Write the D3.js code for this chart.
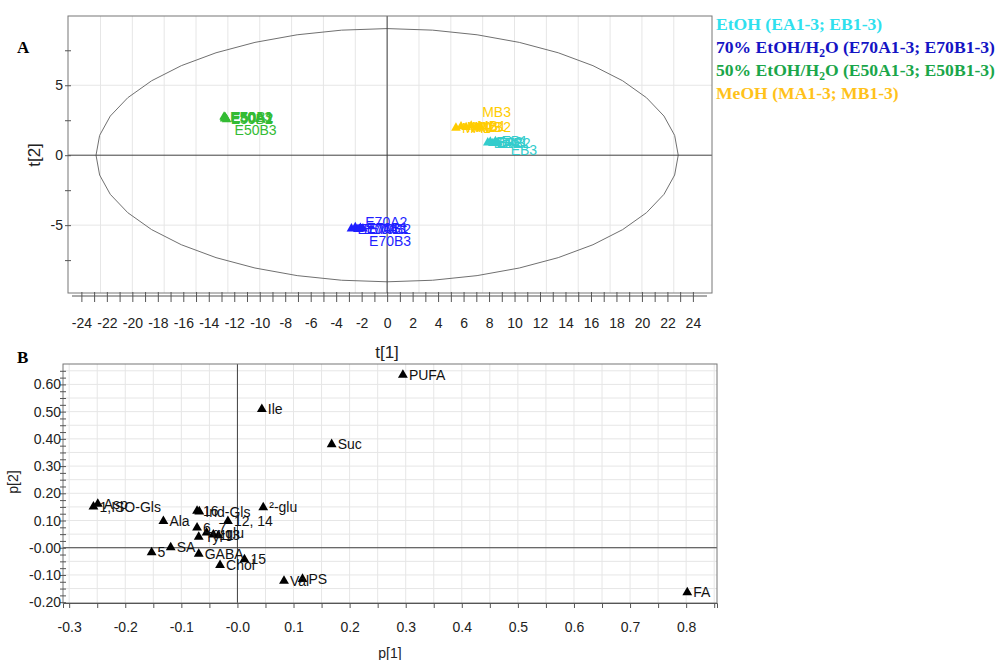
<!DOCTYPE html>
<html>
<head>
<meta charset="utf-8">
<script src="https://cdn.jsdelivr.net/npm/d3@7"></script>
<style>
  body { margin: 0; background: #fff; }
  text { font-family: "Liberation Sans", Arial, sans-serif; }
</style>
</head>
<body>
<script>
// ---- panel A: scores t[1] / t[2] ----
var scoreNames = ["EA1","EA2","EA3","EB1","EB2","EB3",
                  "E70A1","E70A2","E70A3","E70B1","E70B2","E70B3",
                  "E50A1","E50A2","E50A3","E50B1","E50B2","E50B3",
                  "MA1","MA2","MA3","MB1","MB2","MB3"];
var scoreGroup = ["EtOH","EtOH","EtOH","EtOH","EtOH","EtOH",
                  "E70","E70","E70","E70","E70","E70",
                  "E50","E50","E50","E50","E50","E50",
                  "MeOH","MeOH","MeOH","MeOH","MeOH","MeOH"];
var t1 = [7.9, 8.1, 8.3, 8.5, 8.7, 8.6,
          -2.8, -2.5, -2.3, -2.1, -1.9, -2.2,
          -12.75, -12.7, -12.8, -12.7, -12.75, -12.6,
          5.4, 5.8, 6.2, 6.6, 7.0, 7.3];
var t2 = [0.9, 0.95, 0.85, 1.0, 0.9, 0.85,
          -5.25, -5.15, -5.3, -5.2, -5.25, -5.3,
          2.7, 2.65, 2.75, 2.7, 2.6, 2.55,
          1.95, 2.05, 2.0, 2.1, 2.0, 2.05];
var ellipseT1 = 22.85, ellipseT2 = 9.05;   // Hotelling T2 limits
var tTicksX = d3.range(-24, 25, 1);
var tTicksY = [-7.5, -5, -2.5, 0, 2.5, 5, 7.5];

// ---- panel B: loadings p[1] / p[2] ----
var loadNames = ["PUFA","Ile","Suc","FA","Asp","1,ISO-Gls","Ala","16","Ind-Gls","12, 14",
                 "\u00b2-glu","6, 7","\u03b1-glu","Tyr","11","13","SA","5","GABA","Chol","15","Val","PS"];
var p1 = [0.295, 0.0435, 0.168, 0.802, -0.249, -0.2567, -0.132, -0.072, -0.068, -0.017,
          0.046, -0.072, -0.055, -0.069, -0.043, -0.034, -0.119, -0.153, -0.069, -0.031, 0.0125, 0.083, 0.116];
var p2 = [0.635, 0.509, 0.380, -0.164, 0.161, 0.151, 0.098, 0.135, 0.133, 0.098,
          0.148, 0.074, 0.055, 0.040, 0.048, 0.045, 0.001, -0.017, -0.023, -0.064, -0.043, -0.122, -0.115];
var pTicksX = d3.range(-0.3, 0.81, 0.1).map(v => +v.toFixed(2));
var pTicksY = d3.range(-0.2, 0.61, 0.1).map(v => +v.toFixed(2));

var groupColor = {EtOH:"#33cccc", E70:"#1f1fff", E50:"#33bb33", MeOH:"#ffcc00"};
var legendItems = [
  {key:"EtOH", color:"#2fe0ee", parts:["EtOH (EA1-3; EB1-3)"]},
  {key:"E70",  color:"#1414c4", parts:["70% EtOH/H", "2", "O (E70A1-3; E70B1-3)"]},
  {key:"E50",  color:"#1aa64a", parts:["50% EtOH/H", "2", "O (E50A1-3; E50B1-3)"]},
  {key:"MeOH", color:"#ffc21a", parts:["MeOH (MA1-3; MB1-3)"]}
];
// label nudges where the software moved overlapping labels
var nudge = {E50B3:[2,10], MB3:[-4,-15], EB3:[8,7], E70B3:[4,12], E70A2:[4,-5]};

var svg = d3.select("body").append("svg").attr("width", 998).attr("height", 660);

function tri(size) { return d3.symbol().type(d3.symbolTriangle).size(size)(); }

// ================= panel A =================
var ax = d3.scaleLinear().domain([-25.05, 25.5]).range([68, 712]);
var ay = d3.scaleLinear().domain([-9.85, 9.95]).range([293, 16]);
var gA = svg.append("g");

gA.selectAll(".gx").data(d3.range(-22.5, 25, 2.5)).enter().append("line")
  .attr("x1", d => ax(d)).attr("x2", d => ax(d)).attr("y1", 16).attr("y2", 293)
  .attr("stroke", "#e6e6e6");
gA.selectAll(".gy").data([-5, 5]).enter().append("line")
  .attr("y1", d => ay(d)).attr("y2", d => ay(d)).attr("x1", 68).attr("x2", 712)
  .attr("stroke", "#e6e6e6");

// ellipse drawn as a coarse polygon like the original software
var ang = d3.range(0, 361, 9).map(a => a * Math.PI / 180);
gA.append("path")
  .attr("d", d3.line().x(a => ax(ellipseT1 * Math.cos(a))).y(a => ay(ellipseT2 * Math.sin(a)))(ang))
  .attr("fill", "none").attr("stroke", "#707070").attr("stroke-width", 1);

gA.append("line").attr("x1", ax(0)).attr("x2", ax(0)).attr("y1", 16).attr("y2", 293).attr("stroke", "#404040");
gA.append("line").attr("x1", 68).attr("x2", 712).attr("y1", ay(0)).attr("y2", ay(0)).attr("stroke", "#404040");
gA.append("rect").attr("x", 68).attr("y", 16).attr("width", 644).attr("height", 277)
  .attr("fill", "none").attr("stroke", "#777");

var xAxA = gA.append("g").attr("transform", "translate(0,296)")
  .call(d3.axisBottom(ax).tickValues(tTicksX).tickSize(6).tickPadding(16)
    .tickFormat(d => d % 2 === 0 ? String(d) : ""));
xAxA.select(".domain").remove();
gA.append("line").attr("x1", 72).attr("x2", 707).attr("y1", 296).attr("y2", 296).attr("stroke", "#555");
xAxA.selectAll(".tick line").attr("y1", -4).attr("stroke", "#555");
xAxA.selectAll("text").attr("font-size", 14).attr("fill", "#222").attr("font-family", "Liberation Sans");

var yAxA = gA.append("g").attr("transform", "translate(68,0)")
  .call(d3.axisLeft(ay).tickValues(tTicksY).tickSize(3).tickPadding(2)
    .tickFormat(d => d % 5 === 0 ? String(d) : ""));
yAxA.select(".domain").remove();
yAxA.selectAll(".tick line").attr("x2", 3).attr("x1", -3).attr("stroke", "#555");
yAxA.selectAll("text").attr("font-size", 14).attr("fill", "#222").attr("font-family", "Liberation Sans");

var scores = scoreNames.map((n, i) => ({name:n, g:scoreGroup[i], x:t1[i], y:t2[i]}));
gA.selectAll(".sp").data(scores).enter().append("path")
  .attr("d", tri(40))
  .attr("transform", d => "translate(" + ax(d.x) + "," + ay(d.y) + ")")
  .attr("fill", d => groupColor[d.g]);
gA.selectAll(".sl").data(scores).enter().append("text")
  .attr("x", d => ax(d.x) + 6 + (nudge[d.name] ? nudge[d.name][0] : 0))
  .attr("y", d => ay(d.y) + 5 + (nudge[d.name] ? nudge[d.name][1] : 0))
  .attr("font-size", 14).attr("fill", d => groupColor[d.g])
  .text(d => d.name);

gA.append("text").attr("transform", "translate(40,155) rotate(-90)")
  .attr("text-anchor", "middle").attr("font-size", 17).attr("fill", "#222").text("t[2]");
gA.append("text").attr("x", 387).attr("y", 358).attr("text-anchor", "middle")
  .attr("font-size", 17).attr("fill", "#222").text("t[1]");

svg.append("text").attr("x", 17).attr("y", 53).attr("font-size", 17).attr("font-weight", "bold")
  .style("font-family", "'Liberation Serif', 'Times New Roman', serif").text("A");
svg.append("text").attr("x", 17).attr("y", 363).attr("font-size", 17).attr("font-weight", "bold")
  .style("font-family", "'Liberation Serif', 'Times New Roman', serif").text("B");

// legend
var leg = svg.append("g");
legendItems.forEach(function(it, i) {
  var t = leg.append("text").attr("x", 716).attr("y", 30 + i * 23)
    .attr("font-size", 17.6).attr("font-weight", "bold").attr("fill", it.color)
    .style("font-family", "'Liberation Serif', 'Times New Roman', serif");
  it.parts.forEach(function(p, j) {
    var s = t.append("tspan").text(p);
    if (it.parts.length === 3 && j === 1) s.attr("font-size", 11.5).attr("dy", 4);
    if (it.parts.length === 3 && j === 2) s.attr("dy", -4);
  });
});

// ================= panel B =================
var bx = d3.scaleLinear().domain([-0.311, 0.855]).range([63, 717]);
var by = d3.scaleLinear().domain([-0.203, 0.675]).range([603, 364]);
var gB = svg.append("g");

gB.selectAll(".gx").data(d3.range(-0.3, 0.86, 0.05)).enter().append("line")
  .attr("x1", d => bx(d)).attr("x2", d => bx(d)).attr("y1", 364).attr("y2", 603)
  .attr("stroke", "#e6e6e6");
gB.selectAll(".gy").data(d3.range(-0.15, 0.68, 0.05)).enter().append("line")
  .attr("y1", d => by(d)).attr("y2", d => by(d)).attr("x1", 63).attr("x2", 717)
  .attr("stroke", "#e6e6e6");
gB.append("line").attr("x1", bx(0)).attr("x2", bx(0)).attr("y1", 364).attr("y2", 603).attr("stroke", "#404040");
gB.append("line").attr("x1", 63).attr("x2", 717).attr("y1", by(0)).attr("y2", by(0)).attr("stroke", "#404040");
gB.append("rect").attr("x", 63).attr("y", 364).attr("width", 654).attr("height", 239)
  .attr("fill", "none").attr("stroke", "#777");

var fmtP = d => (d === 0 ? "-0.0" : d.toFixed(1));
var xAxB = gB.append("g").attr("transform", "translate(0,603)")
  .call(d3.axisBottom(bx).tickValues(d3.range(-0.3, 0.86, 0.05).map(v => +v.toFixed(2)))
    .tickSize(5).tickPadding(14)
    .tickFormat(d => pTicksX.indexOf(d) >= 0 ? fmtP(d) : ""));
xAxB.select(".domain").attr("stroke", "#555");
xAxB.selectAll(".tick line").attr("stroke", "#555");
xAxB.selectAll("text").attr("font-size", 14).attr("fill", "#222").attr("font-family", "Liberation Sans");

var fmtQ = d => (d === 0 ? "-0.00" : d.toFixed(2));
var yAxB = gB.append("g").attr("transform", "translate(63,0)")
  .call(d3.axisLeft(by).tickValues(d3.range(-0.2, 0.66, 0.025).map(v => +v.toFixed(3)))
    .tickSize(3).tickPadding(-1)
    .tickFormat(d => pTicksY.indexOf(d) >= 0 ? fmtQ(d) : ""));
yAxB.select(".domain").remove();
yAxB.selectAll(".tick line").attr("x1", 3).attr("x2", -3).attr("stroke", "#555");
yAxB.selectAll("text").attr("font-size", 14).attr("fill", "#222").attr("font-family", "Liberation Sans");

var loads = loadNames.map((n, i) => ({name:n, x:p1[i], y:p2[i]}));
gB.selectAll(".lp").data(loads).enter().append("path")
  .attr("d", tri(42))
  .attr("transform", d => "translate(" + bx(d.x) + "," + by(d.y) + ")")
  .attr("fill", "#000");
gB.selectAll(".ll").data(loads).enter().append("text")
  .attr("x", d => bx(d.x) + 6).attr("y", d => by(d.y) + 5)
  .attr("font-size", 14).attr("fill", "#111").text(d => d.name);

gB.append("text").attr("transform", "translate(18,482) rotate(-90)")
  .attr("text-anchor", "middle").attr("font-size", 14).attr("fill", "#222").text("p[2]");
gB.append("text").attr("x", 390).attr("y", 658).attr("text-anchor", "middle")
  .attr("font-size", 14).attr("fill", "#222").text("p[1]");
</script>
</body>
</html>
